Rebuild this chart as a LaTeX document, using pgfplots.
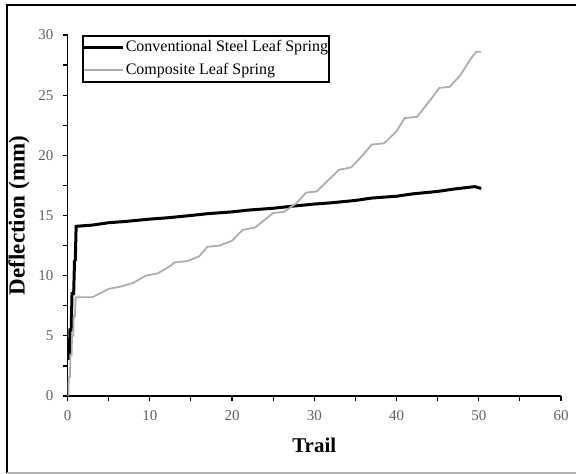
\documentclass[border=0pt]{standalone}
\usepackage{fontspec}
\setmainfont{Liberation Serif}
\usepackage{pgfplots}
\pgfplotsset{compat=1.18}
\definecolor{compgray}{gray}{0.68}
\definecolor{ticktext}{gray}{0.38}

% conventional steel leaf spring
\pgfplotstableread{
x y
0.2 3.0
0.3 5.5
0.45 5.5
0.55 8.5
0.75 8.5
0.85 11.2
0.95 11.3
1.05 14.1
3 14.2
5 14.4
7 14.5
10 14.7
12 14.8
15 15.0
17 15.15
20 15.3
22 15.45
25 15.6
27 15.75
30 15.95
32 16.05
35 16.25
37 16.45
40 16.6
42 16.8
45 17.0
47 17.2
49.5 17.4
50.3 17.25
}\steeldata

% composite leaf spring
\pgfplotstableread{
x y
0 0
0.1 0
0.15 1.6
0.3 1.6
0.35 3.4
0.5 3.4
0.55 5.0
0.7 5.0
0.75 6.6
0.9 6.6
1.0 8.2
3 8.2
5 8.9
6.5 9.1
8 9.4
9.5 10.0
11 10.2
12.5 10.8
13 11.1
14.5 11.2
16 11.6
17 12.4
18.5 12.5
20 12.9
21.3 13.8
22.8 14.0
25 15.2
26.3 15.3
27.8 16.0
29 16.9
30.3 17.0
31.8 18.0
33 18.8
34.5 19.0
36 20.1
37 20.9
38.5 21.0
40 22.0
41 23.1
42.5 23.2
44 24.5
45.2 25.6
46.5 25.7
47.8 26.7
49 28.0
49.7 28.6
50.3 28.6
}\compdata

\begin{document}
\begin{tikzpicture}[x=1pt,y=1pt]
\useasboundingbox (0,0) rectangle (288,237);
\draw[line width=1pt] (3.35,0.6) -- (3.35,234.5) -- (288,234.5);
\draw[line width=0.7pt, black!30] (3.35,0.4) -- (288,0.4);
\begin{axis}[
  at={(33.75pt,39pt)}, anchor=south west,
  scale only axis, width=246.75pt, height=180.5pt,
  xmin=0, xmax=60, ymin=0, ymax=30,
  axis lines=left,
  axis line style={-, line width=0.6pt},
  xtick={0,10,...,60}, ytick={0,5,...,30},
  minor xtick={5,15,...,55}, minor ytick={2.5,7.5,...,27.5},
  tick align=outside,
  major tick length=2.5pt, minor tick length=2.5pt,
  every tick/.style={black, line width=0.6pt},
  tick label style={font=\fontsize{7.5}{8}\selectfont, text=ticktext},
  /pgf/number format/assume math mode=true,
  xticklabel style={yshift=-1pt},
  yticklabel style={xshift=-1pt},
  xlabel={\textbf{Trail}},
  ylabel={\textbf{Deflection (mm)}},
  xlabel style={font=\fontsize{10.5}{12}\selectfont, at={(axis description cs:0.5,0)}, anchor=center, yshift=-24.5pt},
  ylabel style={font=\fontsize{11.5}{13}\selectfont, at={(axis description cs:0,0.5)}, anchor=center, yshift=24.25pt},
  legend style={
    at={(axis description cs:0.029,1.0)}, anchor=north west,
    draw=black, line width=1pt, inner xsep=0pt, inner ysep=1pt,
    font=\fontsize{8}{9}\selectfont, row sep=2pt,
    nodes={inner xsep=0.5pt, inner ysep=1.2pt, text height=5.5pt, text depth=1.5pt},
  },
  legend cell align=left,
  legend image code/.code={\draw[#1] (0pt,0pt) -- (19.5pt,0pt);},
]
\addplot[black, line width=1.5pt] table[x=x, y=y] {\steeldata};
\addlegendentry{Conventional Steel Leaf Spring}
\addplot[compgray, line width=0.9pt] table[x=x, y=y] {\compdata};
\addlegendentry{Composite Leaf Spring}
\end{axis}
\end{tikzpicture}
\end{document}
